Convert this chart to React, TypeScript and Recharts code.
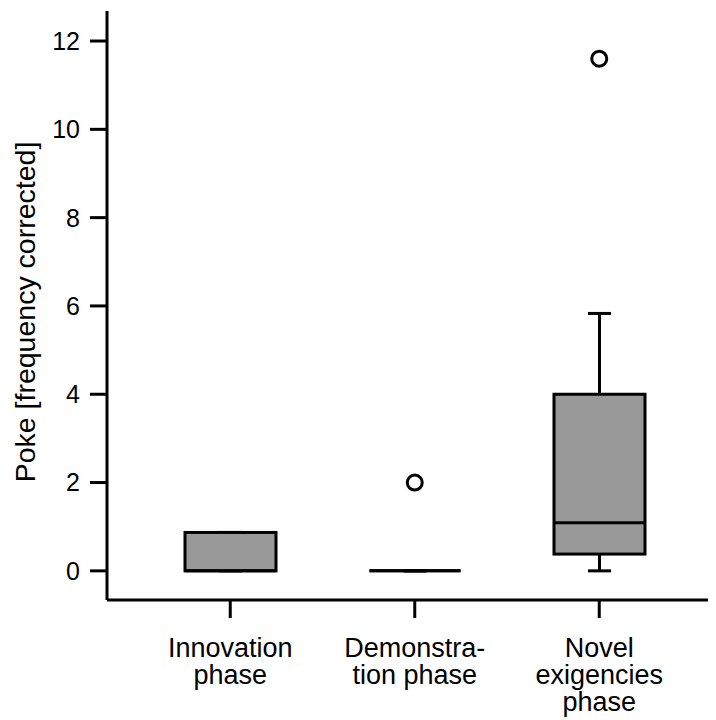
import React from 'react';
import { ComposedChart, Bar, Scatter, XAxis, YAxis, Label } from 'recharts';

const FONT = '"Liberation Sans", Arial, Helvetica, sans-serif';

const categories = ['Innovation phase', 'Demonstration phase', 'Novel exigencies phase'];
const tickLabelLines = [
  ['Innovation', 'phase'],
  ['Demonstra-', 'tion phase'],
  ['Novel', 'exigencies', 'phase'],
];
const lowerWhisker = [0, 0, 0];
const q1 = [0, 0, 0.38];
const median = [0, 0, 1.09];
const q3 = [0.87, 0, 4.0];
const upperWhisker = [0.87, 0, 5.83];
const outliers: (number | null)[] = [null, 2.0, 11.6];
const yTicks = [0, 2, 4, 6, 8, 10, 12];
const yDomain: [number, number] = [-0.66, 12.68];
const yLabel = 'Poke [frequency corrected]';

const data = categories.map((name, i) => ({
  name,
  whisker: [lowerWhisker[i], upperWhisker[i]],
  box: [q1[i], q3[i]],
  med: [median[i], median[i]],
  outlier: outliers[i],
}));

const ok = (...v: any[]) => v.every((n) => typeof n === 'number' && Number.isFinite(n));

const WhiskerShape = (p: any) => {
  const { x, y, width, height } = p;
  if (!ok(x, y, width, height)) return <g />;
  const cx = x + width / 2;
  const cap = 11.5;
  return (
    <g stroke="#000" strokeWidth={3}>
      <line x1={cx} x2={cx} y1={y} y2={y + height} />
      <line x1={cx - cap} x2={cx + cap} y1={y} y2={y} />
      <line x1={cx - cap} x2={cx + cap} y1={y + height} y2={y + height} />
    </g>
  );
};

const BoxShape = (p: any) => {
  const { x, y, width, height } = p;
  if (!ok(x, y, width, height)) return <g />;
  if (Math.abs(height) < 0.5) {
    return <line x1={x} x2={x + width} y1={y} y2={y} stroke="#000" strokeWidth={3} />;
  }
  return <rect x={x} y={y} width={width} height={height} fill="#999999" stroke="#000" strokeWidth={3} />;
};

const MedianShape = (p: any) => {
  const { x, y, width } = p;
  if (!ok(x, y, width)) return <g />;
  return <line x1={x} x2={x + width} y1={y} y2={y} stroke="#000" strokeWidth={3} />;
};

const OutlierShape = (p: any) => {
  const { cx, cy, payload } = p;
  if (!payload || payload.outlier == null || !ok(cx, cy)) return <g />;
  return <circle cx={cx} cy={cy} r={7.5} fill="#fff" stroke="#000" strokeWidth={3} />;
};

const CategoryTick = (p: any) => {
  const { x, y, payload } = p;
  const idx = categories.indexOf(payload?.value);
  const lines = idx >= 0 ? tickLabelLines[idx] : [String(payload?.value)];
  return (
    <g>
      {lines.map((l, i) => (
        <text
          key={i}
          x={x}
          y={y + 36.5 + i * 27}
          textAnchor="middle"
          fontSize={27}
          fontFamily={FONT}
          fill="#000"
        >
          {l}
        </text>
      ))}
    </g>
  );
};

const YLabelContent = (p: any) => {
  const vb = p.viewBox || { x: 0, y: 0, width: 0, height: 0 };
  const x = vb.x + 27;
  const y = vb.y + vb.height / 2 + 6.5;
  return (
    <text
      x={x}
      y={y}
      transform={`rotate(-90, ${x}, ${y})`}
      textAnchor="middle"
      fontSize={28.5}
      fontFamily={FONT}
      fill="#000"
    >
      {yLabel}
    </text>
  );
};

const axisStroke = { stroke: '#000', strokeWidth: 3 };

export default function App() {
  return (
    <div style={{ width: 708, height: 712, fontFamily: FONT }}>
      <ComposedChart
        width={708}
        height={712}
        data={data}
        margin={{ top: 3, right: 0, bottom: 10, left: 0 }}
        barGap={-91}
        barSize={91}
      >
        <XAxis
          xAxisId="top"
          orientation="top"
          dataKey="name"
          height={0}
          tick={false}
          tickLine={false}
          axisLine={axisStroke}
        />
        <XAxis
          dataKey="name"
          height={110}
          padding={{ left: 31, right: 24.5 }}
          tickSize={18}
          tickMargin={2}
          tickLine={axisStroke}
          axisLine={axisStroke}
          tick={<CategoryTick />}
          interval={0}
        />
        <YAxis
          type="number"
          domain={yDomain}
          ticks={yTicks}
          width={99}
          tickSize={17}
          tickMargin={10}
          tickLine={axisStroke}
          axisLine={axisStroke}
          tick={{ fontSize: 25, fill: '#000', fontFamily: FONT }}
        >
          <Label content={YLabelContent} />
        </YAxis>
        <Bar dataKey="whisker" barSize={91} shape={WhiskerShape} isAnimationActive={false} />
        <Bar dataKey="box" barSize={91} shape={BoxShape} isAnimationActive={false} />
        <Bar dataKey="med" barSize={91} shape={MedianShape} isAnimationActive={false} />
        <Scatter dataKey="outlier" shape={OutlierShape} isAnimationActive={false} />
      </ComposedChart>
    </div>
  );
}
